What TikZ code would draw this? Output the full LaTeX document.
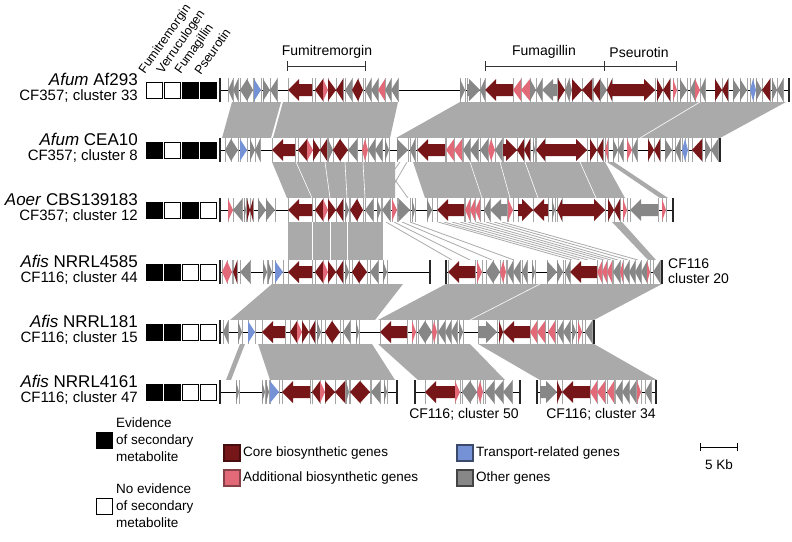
\documentclass[tikz,border=0pt]{standalone}
\usepackage{fontspec}
\setmainfont{Liberation Sans}
\usepackage{tikz}

\definecolor{gc}{RGB}{118,22,24}
\definecolor{ga}{RGB}{226,106,120}
\definecolor{gt}{RGB}{118,146,214}
\definecolor{go}{RGB}{135,135,135}
\definecolor{band}{RGB}{170,170,170}
\definecolor{sepc}{RGB}{165,165,165}

% gen: y, x1, x2, sentido (1/-1), color
\newcommand{\gene}[5]{%
  \draw[sep] (#2,#1-12) -- (#2,#1+12) (#3,#1-12) -- (#3,#1+12);
  \pgfmathsetmacro{\gL}{min(#3-#2,11)}%
  \ifnum#4>0
    \pgfmathsetmacro{\gN}{#3-\gL}%
    \fill[#5] (#2,#1-6) -- (\gN,#1-6) -- (\gN,#1-11) -- (#3,#1) -- (\gN,#1+11) -- (\gN,#1+6) -- (#2,#1+6) -- cycle;
  \else
    \pgfmathsetmacro{\gN}{#2+\gL}%
    \fill[#5] (#3,#1-6) -- (\gN,#1-6) -- (\gN,#1-11) -- (#2,#1) -- (\gN,#1+11) -- (\gN,#1+6) -- (#3,#1+6) -- cycle;
  \fi
}
% pista: y, x inicial, x final
\newcommand{\track}[3]{%
  \fill[white] (#2,#1-12) rectangle (#3,#1+12);
  \draw[spine] (#2,#1) -- (#3,#1);
  \draw[endbar] (#2,#1-12) -- (#2,#1+12) (#3,#1-12) -- (#3,#1+12);
}

\begin{document}
\begin{tikzpicture}[x=1pt,y=-1pt,
   sep/.style={draw=sepc,line width=.5pt},
   spine/.style={draw=black,line width=.9pt},
   endbar/.style={draw=black!85,line width=1.2pt},
   bandpoly/.style={fill=band},
   bandline/.style={draw=band,line width=.8pt},
   split/.style={draw=white,line width=.6pt},
   lbl/.style={font=\fontsize{17}{19}\selectfont,inner sep=0pt},
   sublbl/.style={font=\fontsize{15}{17}\selectfont,inner sep=0pt},
   clbl/.style={font=\fontsize{14}{16}\selectfont,inner sep=0pt},
   hdr/.style={font=\fontsize{12.5}{14}\selectfont,inner sep=0pt,rotate=55,anchor=south west},
   evsq/.style={draw=black,line width=1pt,minimum size=16pt,inner sep=0pt},
   legtxt/.style={font=\fontsize{13.5}{17}\selectfont,inner sep=0pt,align=left},
   legsq/.style={line width=1.2pt,minimum size=16pt,inner sep=0pt}]
   \useasboundingbox (0,0) rectangle (792,541);

   %bandas fila 1-2
   \fill[bandpoly] (232,102) -- (281,102) -- (271,138) -- (222,138) -- cycle;
   \fill[bandpoly] (283,102) -- (398,102) -- (390,138) -- (273,138) -- cycle;
   \fill[bandpoly] (460,102) -- (786,102) -- (720,138) -- (396,138) -- cycle;
   \draw[split] (700,102) -- (640,138);
   %bandas fila 2-3
   \fill[bandpoly] (272,162) -- (395,162) -- (395,198) -- (287,198) -- cycle;
   \foreach \ta/\tb in {296/312,325/330,345/347,363/365}
      \draw[split] (\ta,162) -- (\tb,198);
   \fill[bandpoly] (413,162) -- (605,162) -- (625,198) -- (425,198) -- cycle;
   \foreach \ta/\tb in {470/482,500/510,525/538,580/596}
      \draw[split] (\ta,162) -- (\tb,198);
   \fill[bandpoly] (607,162) -- (614,162) -- (668,198) -- (660,198) -- cycle;
   \draw[bandline] (400,162) -- (374,198);
   \draw[bandline] (407,162) -- (386,198);
   \draw[bandline] (382,162) -- (408,198);
   %bandas fila 3-4
   \fill[bandpoly] (288,222) -- (383,222) -- (383,260) -- (288,260) -- cycle;
   \foreach \ta in {312,330,347}
      \draw[split] (\ta,222) -- (\ta,260);
   \foreach \ta/\tb in {386/452,394/470,402/492,410/514,438/572,444/580,452/588,
                        460/596,468/604,476/611,486/618,494/628,502/638}
      \draw[bandline] (\ta,222) -- (\tb,260);
   \fill[bandpoly] (612,222) -- (622,222) -- (656,260) -- (648,260) -- cycle;
   %bandas fila 4-5
   \fill[bandpoly] (272,284) -- (403,284) -- (375,320) -- (230,320) -- cycle;
   \fill[bandpoly] (446,284) -- (662,284) -- (594,320) -- (378,320) -- cycle;
   \draw[split] (540,284) -- (470,320);
   %bandas fila 5-6
   \fill[bandpoly] (240,344) -- (245,344) -- (231,380) -- (226,380) -- cycle;
   \fill[bandpoly] (258,344) -- (372,344) -- (395,380) -- (270,380) -- cycle;
   \fill[bandpoly] (378,344) -- (470,344) -- (505,380) -- (418,380) -- cycle;
   \fill[bandpoly] (478,344) -- (594,344) -- (657,380) -- (540,380) -- cycle;

   %fila 1
   \track{90}{220}{789}
   \foreach \xa/\xb/\dr/\cl in {228/233/-1/go,233/238/-1/go,240/247/-1/go,247/253/1/go,
      254/261/1/gt,263/270/1/go,270/277/-1/go,288/312/-1/gc,315/323/-1/gc,323/328/1/ga,
      328/336/1/gc,336/343/-1/gc,345/352/-1/go,352/358/-1/gc,358/363/1/gc,365/371/-1/go,
      371/378/-1/go,378/385/-1/ga,385/391/-1/go,391/398/-1/go,460/465/1/go,467/480/1/go,
      480/485/-1/go,485/513/-1/gc,513/521/-1/ga,521/530/-1/ga,530/536/1/go,536/542/-1/go,
      542/557/-1/go,558/565/1/gc,565/569/-1/go,569/572/1/go,572/582/1/gc,582/592/-1/gc,
      593/600/-1/gc,600/607/1/go,607/612/-1/gc,612/655/1/gc,657/663/1/gc,663/670/-1/gc,
      673/677/1/ga,680/687/1/go,690/695/-1/go,695/700/1/ga,700/705/-1/go,715/722/1/gc,
      722/728/-1/gc,733/740/1/go,740/747/1/go,750/753/-1/gt,753/756/1/gt,756/762/1/go,
      762/770/-1/gc,772/777/1/go,777/783/-1/go}
      {\gene{90}{\xa}{\xb}{\dr}{\cl}}
   %fila 2
   \track{150}{220}{720}
   \foreach \xa/\xb/\dr/\cl in {225/231/-1/go,231/238/1/go,240/247/1/gt,250/255/1/go,
      255/260/-1/go,272/295/-1/gc,298/307/-1/gc,307/313/1/ga,313/320/1/gc,320/327/-1/gc,
      328/333/1/go,333/340/-1/gc,340/348/1/gc,348/357/-1/go,362/365/-1/ga,365/368/1/ga,
      368/375/-1/go,375/382/-1/go,385/389/1/go,397/408/1/go,410/415/-1/go,417/445/-1/gc,
      446/454/-1/ga,454/462/-1/ga,463/470/-1/go,470/478/-1/go,480/488/-1/go,488/491/-1/ga,
      491/495/1/ga,495/502/-1/go,503/517/1/gc,517/524/-1/gc,524/530/-1/gc,533/535/1/go,
      536/545/-1/gc,545/587/1/gc,590/597/1/gc,597/603/-1/gc,605/608/-1/ga,613/618/1/go,
      618/623/-1/go,627/632/1/ga,632/637/-1/go,648/654/1/gc,654/660/-1/gc,665/672/1/go,
      675/680/-1/go,682/685/-1/gt,685/688/1/gt,692/702/-1/gc,705/711/1/go,711/718/-1/go}
      {\gene{150}{\xa}{\xb}{\dr}{\cl}}
   %fila 3
   \track{210}{220}{673}
   \foreach \xa/\xb/\dr/\cl in {228/233/1/ga,233/242/-1/go,244/246/1/go,247/250/1/gc,
      250/253/-1/gc,258/266/1/go,266/275/1/go,288/312/-1/gc,315/323/-1/gc,323/328/1/ga,
      328/336/1/gc,336/343/-1/gc,345/349/1/go,350/357/-1/gc,357/363/1/gc,365/373/-1/go,
      377/381/1/go,382/390/-1/go,392/397/1/ga,398/410/1/go,412/415/1/go,427/432/1/go,
      437/464/-1/gc,465/470/-1/ga,470/475/-1/ga,475/480/-1/ga,484/490/-1/go,490/507/-1/go,
      508/513/1/ga,518/533/1/gc,533/548/-1/gc,552/555/1/go,557/562/-1/gc,562/605/1/gc,
      608/614/1/gc,614/620/-1/gc,623/627/1/ga,630/658/-1/go,662/666/1/ga}
      {\gene{210}{\xa}{\xb}{\dr}{\cl}}
   %fila 4
   \track{272}{220}{430}
   \track{272}{446}{662}
   \foreach \xa/\xb/\dr/\cl in {222/227/-1/ga,227/232/1/ga,233/237/-1/gc,240/250/-1/go,
      263/267/1/go,268/272/1/go,275/283/1/gt,288/312/-1/gc,315/323/-1/gc,323/328/1/ga,
      328/336/1/gc,336/343/-1/gc,345/349/1/go,352/359/-1/gc,359/367/1/gc,370/378/-1/go,
      383/387/1/go,448/475/-1/gc,477/482/1/ga,486/493/-1/go,493/500/1/go,500/503/-1/ga,
      503/506/1/ga,507/513/-1/go,513/520/-1/go,522/527/-1/go,532/535/1/go,547/557/1/go,
      557/563/1/go,565/570/-1/go,570/597/-1/gc,597/602/-1/ga,602/607/-1/ga,607/612/-1/ga,
      613/620/-1/go,620/623/-1/ga,623/629/-1/go,629/635/-1/go,635/641/-1/go,641/647/-1/go,
      647/650/1/ga,653/660/-1/go}
      {\gene{272}{\xa}{\xb}{\dr}{\cl}}
   %fila 5
   \track{332}{220}{594}
   \foreach \xa/\xb/\dr/\cl in {223/228/-1/go,238/242/1/go,248/255/1/gt,262/285/-1/gc,
      290/297/-1/gc,297/302/1/ga,302/309/1/gc,309/315/-1/gc,317/321/1/go,325/332/-1/gc,
      332/340/1/gc,343/350/-1/go,356/359/1/go,380/407/-1/gc,412/416/1/ga,418/425/-1/go,
      425/432/1/go,432/434/-1/ga,434/437/1/ga,438/445/-1/go,445/451/-1/go,451/457/-1/go,
      459/463/1/go,478/497/1/go,499/503/1/gc,503/530/-1/gc,530/537/-1/ga,537/545/-1/ga,
      548/555/-1/ga,557/563/-1/go,563/570/-1/go,572/576/1/go,578/582/1/ga,585/592/-1/go}
      {\gene{332}{\xa}{\xb}{\dr}{\cl}}
   %fila 6
   \track{392}{220}{397}
   \track{392}{415}{520}
   \track{392}{537}{656}
   \foreach \xa/\xb/\dr/\cl in {236/239/1/go,262/265/1/go,266/269/1/go,270/279/1/gt,
      282/310/-1/gc,312/320/-1/gc,320/325/1/ga,325/335/1/gc,335/345/-1/gc,346/349/1/go,
      350/360/-1/gc,360/370/1/gc,371/380/-1/go,384/387/1/go,
      425/455/-1/gc,455/460/1/ga,462/470/-1/go,470/477/1/go,477/480/-1/ga,480/483/1/ga,
      485/494/-1/go,494/503/-1/go,503/512/-1/go,
      540/557/1/go,557/562/1/gc,562/590/-1/gc,590/597/-1/ga,597/605/-1/ga,607/614/-1/ga,
      615/622/-1/go,622/629/-1/go,629/636/-1/go,637/641/1/ga,645/651/-1/go}
      {\gene{392}{\xa}{\xb}{\dr}{\cl}}

   %etiquetas de las filas
   \node[lbl,anchor=base east] (n1) at (138,85) {\textit{Afum} Af293};
   \node[sublbl,anchor=base east] (s1) at (138,100) {CF357; cluster 33};
   \node[lbl,anchor=base east] (n2) at (138,145) {\textit{Afum} CEA10};
   \node[sublbl,anchor=base east] (s2) at (138,160) {CF357; cluster 8};
   \node[lbl,anchor=base east] (n3) at (138,205) {\textit{Aoer} CBS139183};
   \node[sublbl,anchor=base east] (s3) at (138,220) {CF357; cluster 12};
   \node[lbl,anchor=base east] (n4) at (138,267) {\textit{Afis} NRRL4585};
   \node[sublbl,anchor=base east] (s4) at (138,282) {CF116; cluster 44};
   \node[lbl,anchor=base east] (n5) at (138,327) {\textit{Afis} NRRL181};
   \node[sublbl,anchor=base east] (s5) at (138,342) {CF116; cluster 15};
   \node[lbl,anchor=base east] (n6) at (138,387) {\textit{Afis} NRRL4161};
   \node[sublbl,anchor=base east] (s6) at (138,402) {CF116; cluster 47};
   \node[clbl,anchor=base west] (c20a) at (668,268) {CF116};
   \node[clbl,anchor=base west] (c20b) at (668,283) {cluster 20};
   \node[clbl,anchor=base] (c50) at (464,418) {CF116; cluster 50};
   \node[clbl,anchor=base] (c34) at (601,418) {CF116; cluster 34};

   %cuadros de evidencia
   \foreach \yy/\ea/\eb/\ec/\ed in {90/white/white/black/black,150/black/white/black/black,
      210/black/white/black/white,272/black/black/white/white,
      332/black/black/white/white,392/black/black/white/white}{
      \node[evsq,fill=\ea] (ev1-\yy) at (154.5,\yy) {};
      \node[evsq,fill=\eb] (ev2-\yy) at (172.5,\yy) {};
      \node[evsq,fill=\ec] (ev3-\yy) at (190.5,\yy) {};
      \node[evsq,fill=\ed] (ev4-\yy) at (208.5,\yy) {};
   }
   \node[hdr] (hfu) at (147,76) {Fumitremorgin};
   \node[hdr] (hve) at (165,76) {Verruculogen};
   \node[hdr] (hfg) at (183,76) {Fumagillin};
   \node[hdr] (hps) at (201,76) {Pseurotin};

   %agrupamientos
   \node[clbl] (tfu) at (327,52) {Fumitremorgin};
   \node[clbl] (tfg) at (544,52) {Fumagillin};
   \node[clbl] (tps) at (639,52) {Pseurotin};
   \draw[line width=1pt,black!80] (287,66) -- (365,66) (287,61) -- (287,71) (365,61) -- (365,71);
   \draw[line width=1pt,black!80] (485,66) -- (676,66) (485,61) -- (485,71)
      (604,61) -- (604,71) (676,61) -- (676,71);

   %leyenda
   \node[evsq,fill=black] (levy) at (104,440) {};
   \node[legtxt,anchor=west] (levyt) at (116,440) {Evidence\\of secondary\\metabolite};
   \node[evsq,fill=white] (levn) at (104,506) {};
   \node[legtxt,anchor=west] (levnt) at (116,506) {No evidence\\of secondary\\metabolite};
   \node[legsq,fill=gc,draw=gc!60!black] (lcore) at (232,453) {};
   \node[legtxt,anchor=west] (lcoret) at (243,453) {Core biosynthetic genes};
   \node[legsq,fill=ga,draw=ga!60!black] (ladd) at (232,478) {};
   \node[legtxt,anchor=west] (laddt) at (243,478) {Additional biosynthetic genes};
   \node[legsq,fill=gt,draw=gt!50!black] (ltra) at (465,453) {};
   \node[legtxt,anchor=west] (ltrat) at (476,453) {Transport-related genes};
   \node[legsq,fill=go,draw=go!50!black] (loth) at (465,478) {};
   \node[legtxt,anchor=west] (lotht) at (476,478) {Other genes};
   \coordinate (sbl) at (700,447);
   \coordinate (sbr) at (738,447);
   \draw[|-|,line width=1pt] (sbl) -- (sbr);
   \node[legtxt] (kb) at (719,465) {5 Kb};
\end{tikzpicture}
\end{document}
